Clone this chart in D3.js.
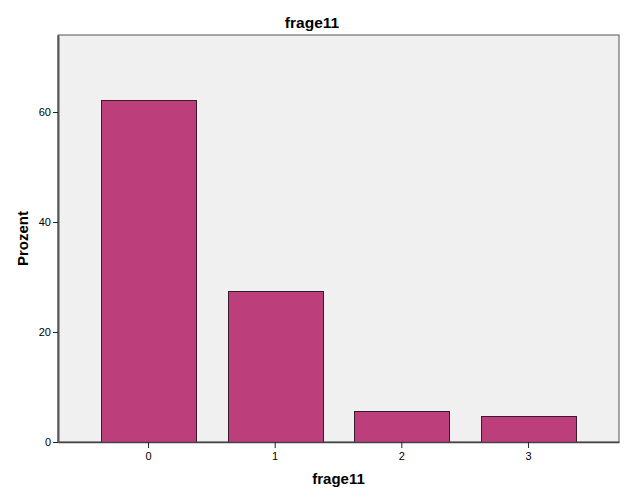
<!DOCTYPE html>
<html><head><meta charset="utf-8">
<script src="https://cdn.jsdelivr.net/npm/d3@7"></script>
<style>body{margin:0;background:#fff;} svg{display:block;}</style>
</head><body>
<script>
const categories = ["0", "1", "2", "3"];
const values = [62.1, 27.4, 5.7, 4.8];
const yTicks = [0, 20, 40, 60];
const chartTitle = "frage11";
const xTitle = "frage11";
const yTitle = "Prozent";

const W = 626, H = 501;
const L = 58, R = 619, T = 35, B = 442;
const svg = d3.select("body").append("svg").attr("width", W).attr("height", H);
svg.append("rect").attr("width", W).attr("height", H).attr("fill", "#fff");

const x = d3.scaleBand().domain(categories).range([L, R]).paddingInner(0.25).paddingOuter(0.34);
const y = d3.scaleLinear().domain([0, 74]).range([B, T]);

svg.append("rect").attr("x", L).attr("y", T).attr("width", R - L).attr("height", B - T)
  .attr("fill", "#f0f0f0").attr("stroke", "#555").attr("stroke-width", 1);

svg.selectAll("rect.bar").data(values).enter().append("rect").attr("class", "bar")
  .attr("x", (d, i) => Math.round(x(categories[i])) + 0.5)
  .attr("y", d => Math.round(y(d)) + 0.5)
  .attr("width", Math.round(x.bandwidth()))
  .attr("height", d => B - Math.round(y(d)))
  .attr("fill", "#bc3f7c").attr("stroke", "#3a1b2b").attr("stroke-width", 1);

const font = "'Liberation Sans', Arial, sans-serif";
const yAxis = svg.append("g").attr("transform", `translate(${L},0)`)
  .call(d3.axisLeft(y).tickValues(yTicks).tickSizeInner(5).tickSizeOuter(0).tickPadding(2).tickFormat(d3.format("d")));
yAxis.select(".domain").attr("stroke", "#555").attr("stroke-width", 2);
yAxis.selectAll("line").attr("stroke", "#222");
yAxis.selectAll("text").attr("font-family", font).attr("font-size", 11).attr("fill", "#000");

const xAxis = svg.append("g").attr("transform", `translate(0,${B})`)
  .call(d3.axisBottom(x).tickSizeInner(6).tickSizeOuter(0).tickPadding(4));
xAxis.select(".domain").attr("stroke", "#444").attr("stroke-width", 1.5);
xAxis.selectAll("line").attr("stroke", "#222");
xAxis.selectAll("text").attr("font-family", font).attr("font-size", 11).attr("fill", "#000");

svg.append("text").attr("x", 312).attr("y", 28).attr("text-anchor", "middle")
  .attr("font-family", font).attr("font-weight", "bold").attr("font-size", 15.5).text(chartTitle);
svg.append("text").attr("x", (L + R) / 2).attr("y", 484).attr("text-anchor", "middle")
  .attr("font-family", font).attr("font-weight", "bold").attr("font-size", 15).text(xTitle);
svg.append("text").attr("transform", `translate(28,${(T + B) / 2}) rotate(-90)`).attr("text-anchor", "middle")
  .attr("font-family", font).attr("font-weight", "bold").attr("font-size", 15).text(yTitle);
</script>
</body></html>
